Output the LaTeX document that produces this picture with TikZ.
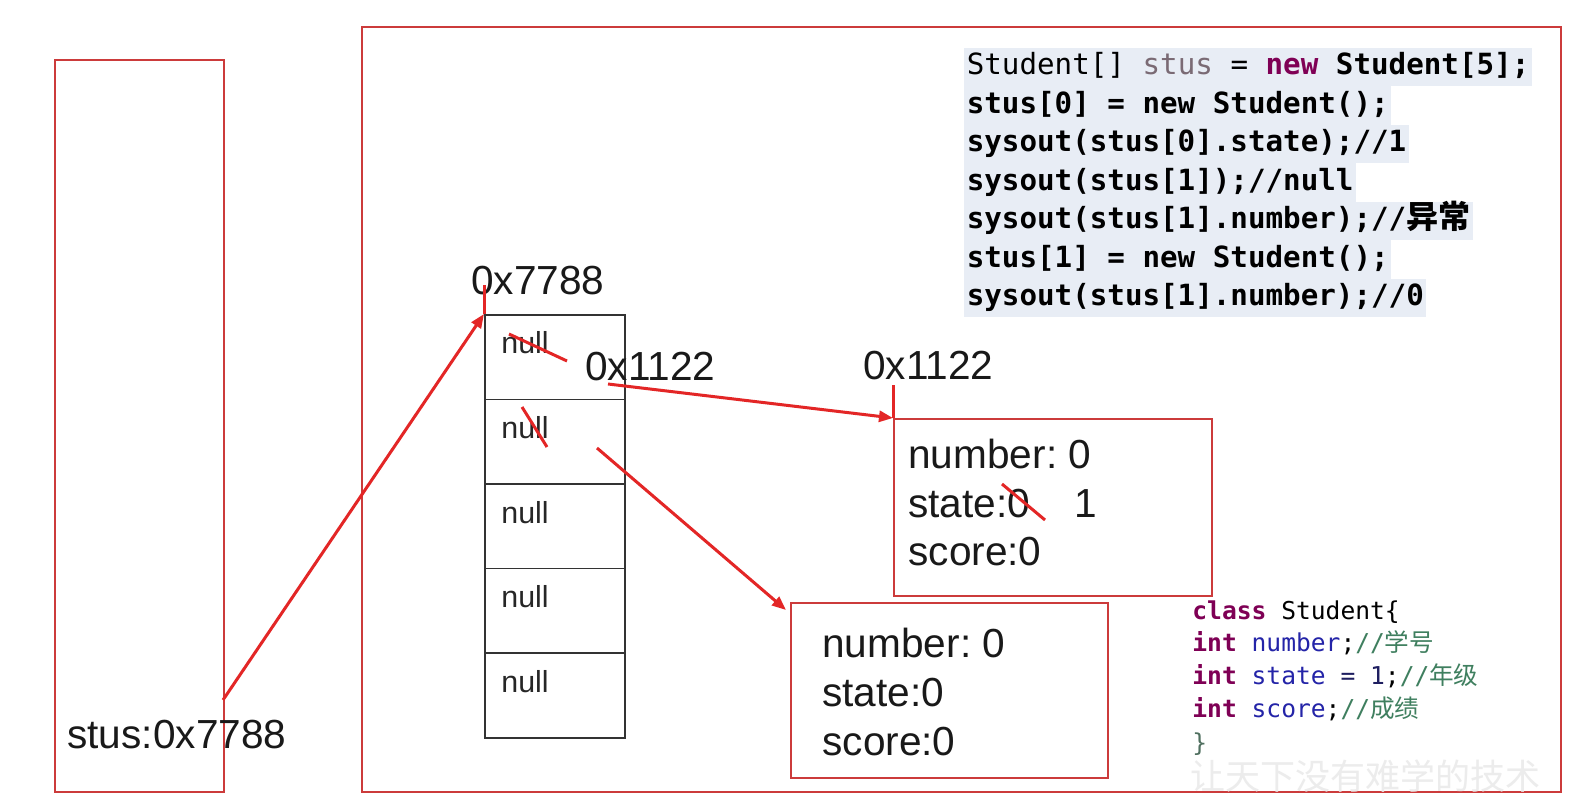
\documentclass[tikz,border=0pt]{standalone}
\usepackage{fontspec}
\setmainfont{Liberation Sans}
\newfontfamily\codefont{DejaVu Sans Mono}
\newfontfamily\cjk{Noto Sans CJK SC}
\usetikzlibrary{arrows.meta}
\frenchspacing
\definecolor{codebg}{HTML}{E8EDF5}
\definecolor{kwpurple}{HTML}{7F0055}
\definecolor{stusgray}{HTML}{7A6A74}
\definecolor{fieldblue}{HTML}{2424A8}
\definecolor{numnavy}{HTML}{1E1E60}
\definecolor{cmtgreen}{HTML}{3F7F5F}
\definecolor{bracegray}{HTML}{4F6F5F}
\definecolor{boxred}{HTML}{CC3B3B}
\definecolor{ptrred}{HTML}{E32626}
\definecolor{cellgray}{HTML}{333333}
\definecolor{wmgray}{HTML}{ECECEC}
\tikzset{
  frame/.style={draw=boxred, line width=1pt, anchor=north west, inner sep=0pt},
  cellbox/.style={draw=cellgray, line width=0.8pt, anchor=north west, inner sep=0pt, minimum width=70pt, minimum height=42.3pt},
  nulltxt/.style={anchor=west, inner sep=0pt, text=black!85, font=\fontsize{15.2}{17}\selectfont},
  bigtxt/.style={anchor=west, inner sep=0pt, text=black!90, font=\fontsize{20.3}{23}\selectfont},
  ptr/.style={draw=ptrred, line width=1.5pt, -{Triangle[length=7pt,width=5.5pt]}},
  redline/.style={draw=ptrred, line width=1.5pt},
  codeline/.style={fill=codebg, anchor=west, inner xsep=1.2pt, inner ysep=0pt, minimum height=19.4pt, text height=11pt, text depth=3pt, font=\codefont\fontsize{14.6}{16}\selectfont\bfseries},
  classline/.style={anchor=west, inner sep=0pt, text height=9.5pt, text depth=2.5pt, font=\codefont\fontsize{12.3}{14}\selectfont},
}
\begin{document}
\begin{tikzpicture}[x=0.5pt,y=-0.5pt]
\useasboundingbox[fill=white] (0,0) rectangle (1586,812);

% stack and heap frames
\node[frame, minimum width=84.5pt, minimum height=366pt] (stack) at (54,59) {};
\node[frame, minimum width=599.5pt, minimum height=382.5pt] (heap) at (361,26) {};

% array cells
\foreach \i in {1,...,5}{
  \node[cellbox] (cell\i) at (484,{314+84.6*(\i-1)}) {};
  \node[nulltxt] (null\i) at (501,{343+84.6*(\i-1)}) {null};
}

% objects
\node[frame, minimum width=159pt, minimum height=88.5pt] (obj1) at (893,418) {};
\node[frame, minimum width=158.5pt, minimum height=87.5pt] (obj2) at (790,602) {};

\node[bigtxt] (o1n) at (908,454) {number: 0};
\node[bigtxt] (o1s) at (908,504) {state:0};
\node[bigtxt] (o1one) at (1074,504) {1};
\node[bigtxt] (o1c) at (908,552) {score:0};

\node[bigtxt] (o2n) at (822,643) {number: 0};
\node[bigtxt] (o2s) at (822,693) {state:0};
\node[bigtxt] (o2c) at (822,742) {score:0};

% address labels
\node[bigtxt] (addr7788) at (471,281) {0x7788};
\node[bigtxt] (addrA) at (585,367) {0x1122};
\node[bigtxt] (addrB) at (863,366) {0x1122};
\node[bigtxt] (stusvar) at (67,735) {stus:0x7788};

% pointers
\coordinate (sptr) at (223,700);
\coordinate (p0) at (608,384);
\coordinate (p1) at (597,448);
\draw[ptr] (sptr) -- (cell1.north west);
\draw[redline] (cell1.north west) -- ++(0,-29);
\draw[ptr] (p0) -- (obj1.north west);
\draw[redline] (obj1.north west) -- ++(0,-33);
\draw[ptr] (p1) -- ([shift={(-4,8)}]obj2.north west);

% strike-outs
\draw[redline] (509,334) -- (567,361);
\draw[redline] (522,407) -- (547,447);
\draw[redline] (1002,484) -- (1045,520);

% code block
\node[codeline] (c1) at (964,67) {{\mdseries Student[] \textcolor{stusgray}{stus} = }\textcolor{kwpurple}{new} Student[5];};
\node[codeline] (c2) at (964,105.5) {stus[0] = new Student();};
\node[codeline] (c3) at (964,144) {sysout(stus[0].state);//1};
\node[codeline] (c4) at (964,182.5) {sysout(stus[1]);//null};
\node[codeline] (c5) at (964,221) {sysout(stus[1].number);//{\cjk\fontsize{16}{18}\selectfont 异常}};
\node[codeline] (c6) at (964,259.5) {stus[1] = new Student();};
\node[codeline] (c7) at (964,298) {sysout(stus[1].number);//0};

% class definition
\node[classline] (k1) at (1192,612) {\textcolor{kwpurple}{\bfseries class} Student\{};
\node[classline] (k2) at (1192,645) {\textcolor{kwpurple}{\bfseries int} \textcolor{fieldblue}{number};\textcolor{cmtgreen}{//{\cjk 学号}}};
\node[classline] (k3) at (1192,677.5) {\textcolor{kwpurple}{\bfseries int} \textcolor{fieldblue}{state} \textcolor{numnavy}{= 1};\textcolor{cmtgreen}{//{\cjk 年级}}};
\node[classline] (k4) at (1192,710) {\textcolor{kwpurple}{\bfseries int} \textcolor{fieldblue}{score};\textcolor{cmtgreen}{//{\cjk 成绩}}};
\node[classline] (k5) at (1192,744) {\textcolor{bracegray}{\}}};

% watermark
\node[anchor=west, inner sep=0pt, text=wmgray, font=\cjk\fontsize{17.5}{18}\selectfont] (wm) at (1190,776) {让天下没有难学的技术};
\end{tikzpicture}
\end{document}
